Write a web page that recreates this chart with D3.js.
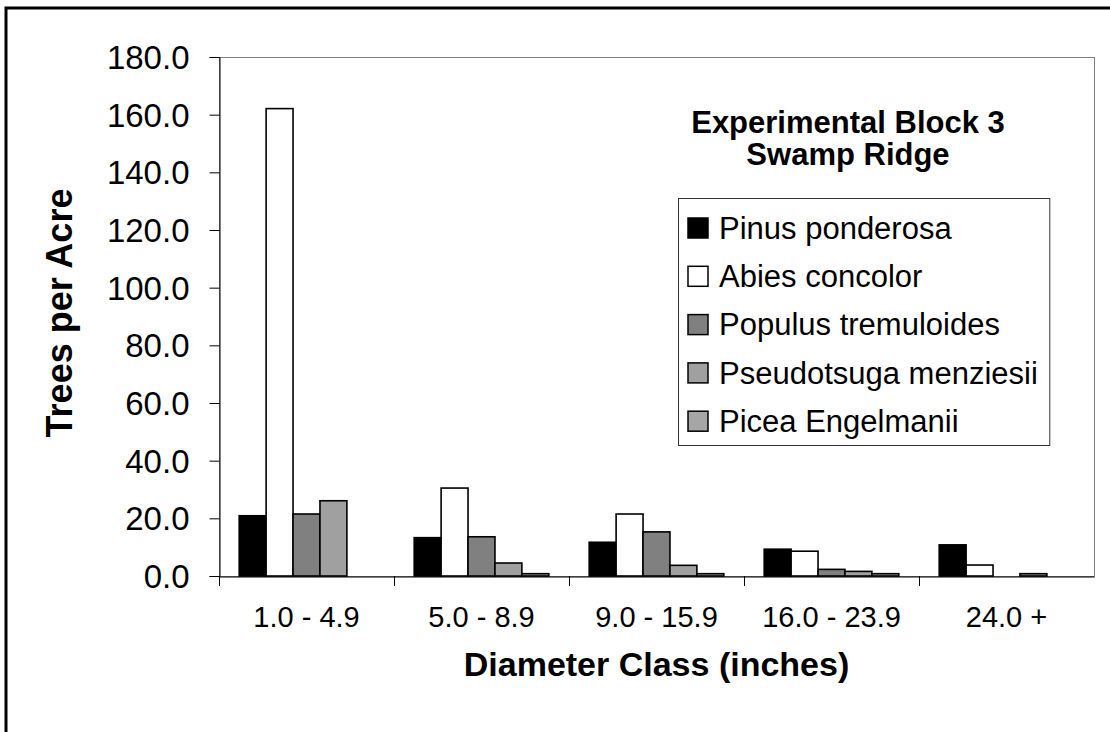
<!DOCTYPE html>
<html>
<head>
<meta charset="utf-8">
<script src="https://cdn.jsdelivr.net/npm/d3@7"></script>
<style>
  body { margin: 0; background: #fff; }
  text { font-family: "Liberation Sans", Arial, sans-serif; fill: #000; }
</style>
</head>
<body>
<div id="chart"></div>
<script>
// diameter classes and trees per acre for each species
var classes = ["1.0 - 4.9", "5.0 - 8.9", "9.0 - 15.9", "16.0 - 23.9", "24.0 +"];
var species = ["Pinus ponderosa", "Abies concolor", "Populus tremuloides", "Pseudotsuga menziesii", "Picea Engelmanii"];
var pinus = [20.9, 13.3, 11.7, 9.3, 10.8];
var abies = [162.1, 30.5, 21.5, 8.6, 3.8];
var populus = [21.5, 13.6, 15.3, 2.3, 0];
var pseudotsuga = [26.1, 4.5, 3.7, 1.6, 0.8];
var picea = [0, 0.8, 0.8, 0.8, 0];
var yTicks = [0, 20, 40, 60, 80, 100, 120, 140, 160, 180];

var series = [pinus, abies, populus, pseudotsuga, picea];
var fills = ["#000000", "#ffffff", "#808080", "#a0a0a0", "#a6a6a6"];

var width = 1110, height = 732;
var plotLeft = 219, plotRight = 1094, plotTop = 57, plotBottom = 576;

var svg = d3.select("#chart").append("svg")
    .attr("width", width)
    .attr("height", height);

// outer frame (runs off the page on right and bottom)
svg.append("rect")
    .attr("x", 6).attr("y", 8)
    .attr("width", 1200).attr("height", 900)
    .attr("fill", "none")
    .attr("stroke", "#000")
    .attr("stroke-width", 3);

var x0 = d3.scaleBand()
    .domain(classes)
    .range([plotLeft, plotRight])
    .padding(0);

var x1 = d3.scaleBand()
    .domain(d3.range(species.length))
    .range([0, x0.bandwidth()])
    .paddingInner(0)
    .paddingOuter(0.75);

var y = d3.scaleLinear()
    .domain([0, 180])
    .range([plotBottom, plotTop]);

// plot area border
svg.append("rect")
    .attr("x", plotLeft + 0.5).attr("y", plotTop + 0.5)
    .attr("width", plotRight - plotLeft).attr("height", plotBottom - plotTop)
    .attr("fill", "none")
    .attr("stroke", "#808080");

var rows = [];
series.forEach(function(vals, s) {
    vals.forEach(function(v, c) {
        if (v > 0) rows.push({ s: s, c: classes[c], v: v });
    });
});

// y axis
var yAxis = svg.append("g")
    .attr("transform", "translate(" + (plotLeft + 0.5) + ",0)")
    .call(d3.axisLeft(y).tickValues(yTicks).tickFormat(d3.format(".1f")).tickSizeOuter(0).tickSize(10).tickPadding(20));
yAxis.selectAll("text")
    .style("font-size", "33px")
    .attr("dy", "0.35em");
yAxis.selectAll("line, path").attr("stroke", "#000");

// x axis
var xAxis = svg.append("g")
    .attr("transform", "translate(0," + (plotBottom + 0.5) + ")")
    .call(d3.axisBottom(x0).tickSizeOuter(0).tickSize(0).tickPadding(30));
xAxis.selectAll("text").style("font-size", "29px");
xAxis.select("path").attr("stroke", "#000");

// tick marks at category boundaries
svg.append("g").selectAll("line")
    .data(classes)
    .enter()
    .append("line")
    .attr("x1", function(d) { return Math.round(x0(d)) + 0.5; })
    .attr("x2", function(d) { return Math.round(x0(d)) + 0.5; })
    .attr("y1", plotBottom)
    .attr("y2", plotBottom + 10)
    .attr("stroke", "#000");

svg.append("g").selectAll("rect")
    .data(rows)
    .enter()
    .append("rect")
    .attr("x", function(d) { return x0(d.c) + x1(d.s); })
    .attr("y", function(d) { return y(d.v); })
    .attr("width", x1.bandwidth())
    .attr("height", function(d) { return plotBottom - y(d.v); })
    .attr("fill", function(d) { return fills[d.s]; })
    .attr("stroke", "#000")
    .attr("stroke-width", 1.6);

// axis titles
svg.append("text")
    .text("Trees per Acre")
    .attr("transform", "translate(72,313) rotate(-90)")
    .attr("text-anchor", "middle")
    .style("font-size", "36px")
    .style("font-weight", "bold");

svg.append("text")
    .text("Diameter Class (inches)")
    .attr("x", (plotLeft + plotRight) / 2)
    .attr("y", 676)
    .attr("text-anchor", "middle")
    .style("font-size", "34px")
    .style("font-weight", "bold");

// legend title
var titleLines = ["Experimental Block 3", "Swamp Ridge"];
svg.append("g").selectAll("text")
    .data(titleLines)
    .enter()
    .append("text")
    .text(function(d) { return d; })
    .attr("x", 848)
    .attr("y", function(d, i) { return 133 + i * 32; })
    .attr("text-anchor", "middle")
    .style("font-size", "31px")
    .style("font-weight", "bold");

// legend
var legend = svg.append("g");
var box = legend.append("rect")
    .attr("x", 678.5).attr("y", 198.5)
    .attr("height", 247)
    .attr("fill", "#fff")
    .attr("stroke", "#333");

var items = legend.selectAll(".item")
    .data(species)
    .enter()
    .append("g")
    .attr("transform", function(d, i) { return "translate(0," + (228 + i * 48.3) + ")"; });

items.append("rect")
    .attr("x", 688).attr("y", -10)
    .attr("width", 20).attr("height", 20)
    .attr("fill", function(d, i) { return fills[i]; })
    .attr("stroke", "#000")
    .attr("stroke-width", 1.5);

var labels = items.append("text")
    .text(function(d) { return d; })
    .attr("x", 719)
    .attr("dy", "0.35em")
    .style("font-size", "31px");

var maxLen = d3.max(labels.nodes(), function(n) { return n.getComputedTextLength(); });
box.attr("width", 719 + maxLen + 12 - 678.5);
</script>
</body>
</html>
